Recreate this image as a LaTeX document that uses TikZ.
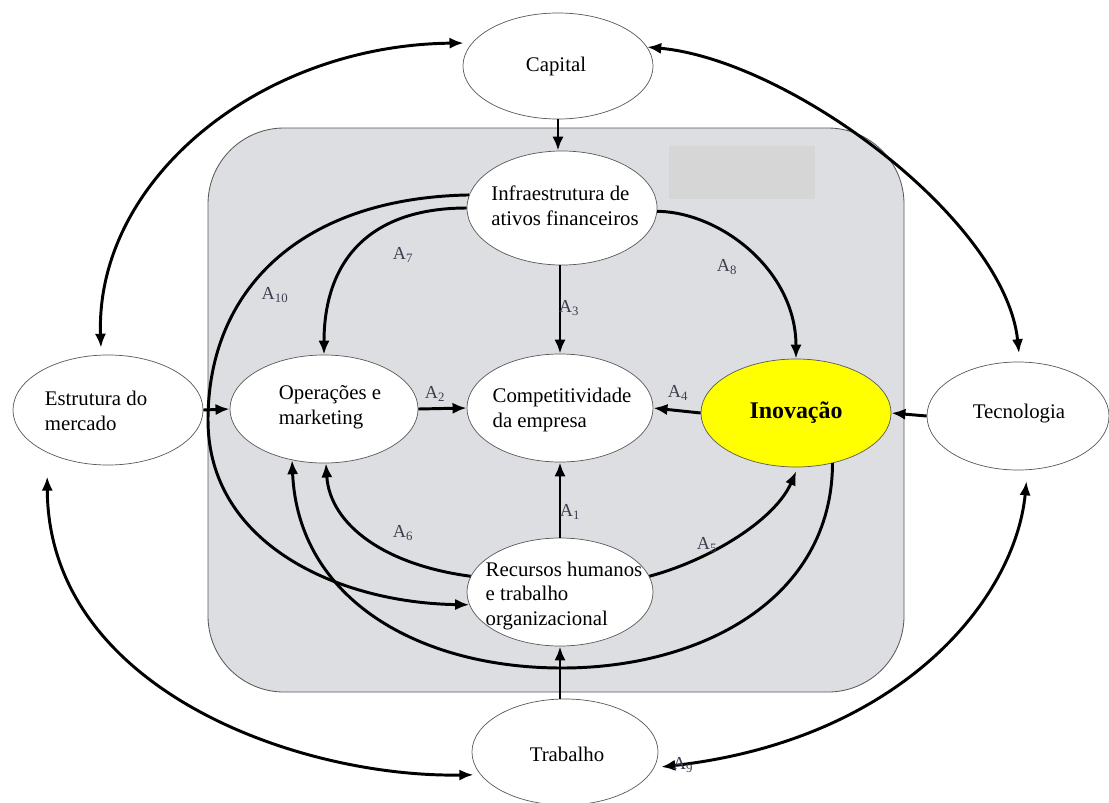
\documentclass[tikz,border=0pt]{standalone}
\usepackage{fontspec}
\setmainfont{Liberation Serif}
\usetikzlibrary{shapes.geometric,arrows.meta}
\definecolor{boxgray}{RGB}{220,222,225}
\definecolor{patchgray}{RGB}{214,214,214}
\definecolor{labelcol}{RGB}{60,62,80}
\definecolor{inovyellow}{RGB}{255,255,0}
\begin{document}
\begin{tikzpicture}[x=0.025cm,y=-0.025cm,
  ell/.style={ellipse, draw=black!65, line width=0.5pt, fill=white, inner sep=0pt},
  txt/.style={align=left, inner sep=0pt, font=\fontsize{14.8}{17.5}\selectfont},
  conn/.style={line width=2.1pt, -{Latex[length=10pt,width=8pt]}},
  both/.style={line width=2.1pt, {Latex[length=10pt,width=8pt]}-{Latex[length=10pt,width=8pt]}},
  lab/.style={text=labelcol, inner sep=1pt, font=\fontsize{13}{15}\selectfont}]
\path[use as bounding box, fill=white] (0,0) rectangle (1109,802);
\draw[fill=boxgray, draw=black!65, line width=0.6pt, rounded corners=1.9cm] (208,128) rectangle (904,692);
\fill[patchgray] (669,146) rectangle (815,199);

% nodes
\node[ell, minimum width=4.75cm, minimum height=2.65cm] (cap) at (558,66) {};
\node[txt] (capT) at (556,66) {Capital};
\node[ell, minimum width=4.75cm, minimum height=2.85cm] (infra) at (562,208) {};
\node[txt] (infraT) at (565,206) {Infraestrutura de\\ativos financeiros};
\node[ell, minimum width=4.75cm, minimum height=2.75cm] (est) at (108,410) {};
\node[txt] (estT) at (96,411) {Estrutura do\\mercado};
\node[ell, minimum width=4.7cm, minimum height=2.7cm] (oper) at (324,409) {};
\node[txt] (operT) at (330,407) {Operações e\\marketing};
\node[ell, minimum width=4.65cm, minimum height=2.7cm] (comp) at (560,408) {};
\node[txt] (compT) at (562,410) {Competitividade\\da empresa};
\node[ell, fill=inovyellow, minimum width=4.75cm, minimum height=2.7cm] (inov) at (796,413) {};
\node[inner sep=0pt, font=\fontsize{17}{20}\selectfont\bfseries] (inovT) at (796,413) {Inovação};
\node[ell, minimum width=4.55cm, minimum height=2.7cm] (tec) at (1018,416) {};
\node[txt] (tecT) at (1019,414) {Tecnologia};
\node[ell, minimum width=4.65cm, minimum height=2.7cm] (rec) at (560,592) {};
\node[txt] (recT) at (564,596) {Recursos humanos\\e trabalho\\organizacional};
\node[ell, minimum width=4.65cm, minimum height=2.65cm] (trab) at (565,752) {};
\node[txt] (trabT) at (567,754) {Trabalho};

% straight connectors
\draw[conn] (cap.south) -- (cap.south |- infra.north);
\draw[conn] (comp.north |- infra.south) -- (comp.north);
\draw[conn] (rec.north) -- (comp.south);
\draw[conn] (rec.south |- trab.north) -- (rec.south);
\draw[conn] (oper.east) -- (comp.west);
\draw[conn] (inov.west) -- (comp.east);
\draw[conn] (tec.west) -- (inov.east);
\draw[conn] (est.east) -- (oper.west);

% inner curves
\draw[conn] (infra.180) .. controls (370,208) and (324,260) .. (oper.north);
\draw[conn] (infra.172) .. controls (300,198) and (208,290) .. (208,420)
   .. controls (208,545) and (340,603) .. (rec.188);
\draw[conn] (infra.-2) .. controls (720,212) and (796,270) .. (inov.north);
\draw[conn] (rec.170) .. controls (385,565) and (330,525) .. (oper.-88);
\draw[conn, shorten >=3pt] (rec.10) .. controls (710,560) and (775,520) .. (inov.-88);
\draw[conn] (inov.-54) .. controls (832,600) and (700,668) .. (562,668)
   .. controls (420,668) and (298,600) .. (oper.-122);

% outer curves
\draw[both, shorten <=5pt, shorten >=6pt] (est.97) .. controls (95,180) and (260,45) .. (cap.165);
\draw[both, shorten >=6pt] (cap.12) .. controls (790,60) and (1005,220) .. (tec.88);
\draw[both, shorten <=17pt, shorten >=5pt] (est.215) .. controls (48,690) and (300,778) .. (trab.195);
\draw[both, shorten <=8pt, shorten >=5pt] (tec.-80) .. controls (1015,600) and (900,740) .. (trab.-10);

% labels
\node[lab] (a1) at (570,512) {A\textsubscript{1}};
\node[lab] (a2) at (435,394) {A\textsubscript{2}};
\node[lab] (a3) at (569,308) {A\textsubscript{3}};
\node[lab] (a4) at (678,393) {A\textsubscript{4}};
\node[lab] (a5) at (707,545) {A\textsubscript{5}};
\node[lab] (a6) at (403,533) {A\textsubscript{6}};
\node[lab] (a7) at (403,255) {A\textsubscript{7}};
\node[lab] (a8) at (727,267) {A\textsubscript{8}};
\node[lab] (a9) at (683,765) {A\textsubscript{9}};
\node[lab] (a10) at (275,295) {A\textsubscript{10}};
\end{tikzpicture}
\end{document}
